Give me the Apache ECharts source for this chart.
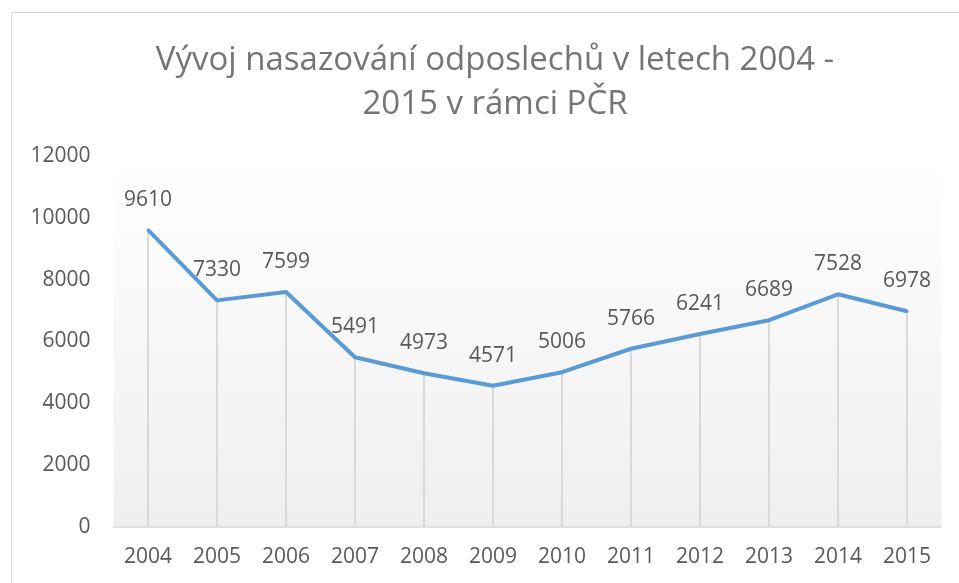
<!DOCTYPE html>
<html>
<head>
<meta charset="utf-8">
<script src="https://cdn.jsdelivr.net/npm/echarts@6/dist/echarts.min.js"></script>
<style>
html, body { margin: 0; padding: 0; background: #fff; }
#chart { width: 959px; height: 583px; }
</style>
</head>
<body>
<div id="chart"></div>
<script>
var years = ['2004', '2005', '2006', '2007', '2008', '2009', '2010', '2011', '2012', '2013', '2014', '2015'];
var odposlechy = [9610, 7330, 7599, 5491, 4973, 4571, 5006, 5766, 6241, 6689, 7528, 6978];
var yTicks = { min: 0, max: 12000, step: 2000 };

var textFont = '"Open Sans", "Noto Sans", sans-serif';
var myChart = echarts.init(document.getElementById('chart'));

var option = {
	animation: false,
	title: {
		text: 'Vývoj nasazování odposlechů v letech 2004 -\n2015 v rámci PČR',
		left: 490,
		top: 34,
		textAlign: 'center',
		textStyle: {
			color: '#757575',
			fontFamily: textFont,
			fontWeight: 'normal',
			fontSize: 33,
			lineHeight: 44
		}
	},
	graphic: [{
		type: 'rect',
		shape: { x: 11.5, y: 12.5, width: 980, height: 600 },
		style: { fill: null, stroke: '#d9d9d9', lineWidth: 1 },
		z: -10
	}],
	grid: {
		left: 113.5,
		right: 17.5,
		top: 156,
		bottom: 56,
		show: true,
		borderWidth: 0,
		backgroundColor: new echarts.graphic.LinearGradient(0, 0, 0, 1, [
			{ offset: 0, color: '#ffffff' },
			{ offset: 1, color: '#efefef' }
		])
	},
	xAxis: {
		type: 'category',
		data: years,
		boundaryGap: true,
		axisLine: { lineStyle: { color: '#d9d9d9', width: 1.5 } },
		axisTick: { show: false },
		axisLabel: { color: '#595959', fontFamily: textFont, fontSize: 21, margin: 20 },
		splitLine: { show: false }
	},
	yAxis: {
		type: 'value',
		min: yTicks.min,
		max: yTicks.max,
		interval: yTicks.step,
		axisLine: { show: false },
		axisTick: { show: false },
		axisLabel: {
			color: '#595959', fontFamily: textFont, fontSize: 21, margin: 23,
			formatter: function(v) { return String(v); }
		},
		splitLine: { show: false }
	},
	series: [{
		// drop lines
		type: 'bar',
		data: odposlechy,
		barWidth: 2,
		itemStyle: { color: '#d9d9d9' },
		silent: true,
		z: 1
	}, {
		type: 'line',
		data: odposlechy,
		symbol: 'circle',
		symbolSize: 3,
		itemStyle: { color: '#5b9bd5' },
		lineStyle: { color: '#5b9bd5', width: 4 },
		label: {
			show: true,
			position: 'top',
			distance: 18,
			color: '#595959',
			fontFamily: textFont,
			fontSize: 21
		},
		z: 3
	}]
};
myChart.setOption(option);
</script>
</body>
</html>
